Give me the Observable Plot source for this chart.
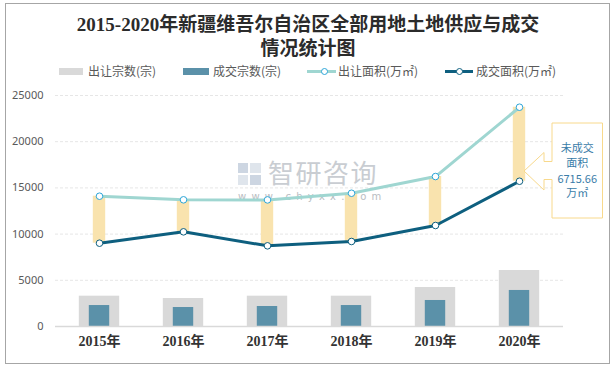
<!DOCTYPE html>
<html>
<head>
<meta charset="utf-8">
<script src="https://cdn.jsdelivr.net/npm/d3@7"></script>
<script src="https://cdn.jsdelivr.net/npm/@observablehq/plot@0.6"></script>
<style>
  html, body { margin: 0; padding: 0; background: #fff; }
  #wrap { position: relative; width: 615px; height: 367px; overflow: hidden; font-family: "Noto Sans CJK SC", "Noto Sans", sans-serif; }
  .abs { position: absolute; }
  #frame { left: 5px; top: 3px; width: 603px; height: 359px; border: 1px solid #a6a6a6; }
  #title { left: 0; top: 13px; width: 616px; text-align: center; font-family: "Liberation Serif", "Noto Sans CJK SC", serif; font-weight: bold; font-size: 19px; line-height: 24px; color: #2b2b2b; }
  .lg { font-size: 12px; line-height: 16px; top: 63px; color: #595959; white-space: nowrap; }
  .sw { top: 68px; height: 7px; }
  .ln { height: 3px; top: 69.5px; }
  .lc { width: 5px; height: 5px; border-radius: 50%; background: #fff; top: 67.5px; }
  #wm1 { left: 268px; top: 159px; font-size: 26px; line-height: 26px; color: #c9cdd2; letter-spacing: 1.5px; }
  #wm2 { left: 238px; top: 191px; font-size: 10px; line-height: 12px; color: #b9bdc2; letter-spacing: 5.2px; font-family: "DejaVu Sans", sans-serif; }
  #chart { left: 0; top: 0; }
</style>
</head>
<body>
<div id="wrap">
  <div class="abs" id="wm1">智研咨询</div>
  <div class="abs" id="wm2">www.chyxx.com</div>
  <div class="abs" style="left:238px;top:163px;width:10px;height:10px;background:#cdd6e2"></div>
  <div class="abs" style="left:250px;top:163px;width:11px;height:10px;background:#dfe5ec"></div>
  <div class="abs" style="left:238px;top:175px;width:10px;height:10px;background:#dfe5ec"></div>
  <div class="abs" style="left:250px;top:175px;width:11px;height:10px;background:#cdd6e2"></div>
  <div class="abs" id="chart"></div>
  <div class="abs" id="frame"></div>
  <div class="abs" id="title">2015-2020年新疆维吾尔自治区全部用地土地供应与成交<br>情况统计图</div>
  <div class="abs sw" style="left:59px;width:24px;background:#d9d9d9"></div>
  <div class="abs lg" style="left:88px">出让宗数(宗)</div>
  <div class="abs sw" style="left:183px;width:26px;background:#5b91a9"></div>
  <div class="abs lg" style="left:213px">成交宗数(宗)</div>
  <div class="abs ln" style="left:307px;width:29px;background:#9fd6d1"></div>
  <div class="abs lc" style="left:320.5px;border:1px solid #2ea6d8"></div>
  <div class="abs lg" style="left:338px">出让面积(万㎡)</div>
  <div class="abs ln" style="left:445px;width:28px;background:#0e5f7f"></div>
  <div class="abs lc" style="left:455.5px;border:1px solid #0e5f7f"></div>
  <div class="abs lg" style="left:476px">成交面积(万㎡)</div>
</div>
<script>
const years = ["2015年", "2016年", "2017年", "2018年", "2019年", "2020年"];
const supplyCount = [3280, 3030, 3280, 3280, 4220, 6060];
const dealCount = [2270, 2055, 2165, 2270, 2815, 3900];
const supplyArea = [14100, 13710, 13700, 14420, 16230, 23730];
const dealArea = [9015, 10245, 8730, 9200, 10930, 15720];
const yTicks = [0, 5000, 10000, 15000, 20000, 25000];
const calloutLines = ["未成交", "面积", "6715.66", "万㎡"];

const data = years.map((y, i) => ({
  year: y, sc: supplyCount[i], dc: dealCount[i], sa: supplyArea[i], da: dealArea[i]
}));

const chart = Plot.plot({
  width: 615,
  height: 367,
  marginTop: 95,
  marginBottom: 41,
  marginLeft: 55,
  marginRight: 52,
  style: { background: "transparent", fontFamily: "'Noto Sans', 'Noto Sans CJK SC', sans-serif", overflow: "visible" },
  x: { type: "band", domain: years, paddingInner: 0, paddingOuter: 0 },
  y: { domain: [0, 25000] },
  marks: [
    Plot.ruleY(yTicks.filter(d => d > 0), { stroke: "#e6e6e6", strokeDasharray: "3,2" }),
    Plot.barY(data, { x: "year", y: "sc", fill: "#d9d9d9", insetLeft: 21.8, insetRight: 21.8 }),
    Plot.barY(data, { x: "year", y: "dc", fill: "#5b91a9", insetLeft: 31.8, insetRight: 31.8 }),
    Plot.ruleY([0], { stroke: "#d9d9d9", strokeWidth: 1.5 }),
    Plot.barY(data, { x: "year", y1: "da", y2: "sa", fill: "#f9e3ae", insetLeft: 35.8, insetRight: 35.8 }),
    Plot.line(data, { x: "year", y: "sa", stroke: "#9fd6d1", strokeWidth: 3 }),
    Plot.line(data, { x: "year", y: "da", stroke: "#0e5f7f", strokeWidth: 3 }),
    Plot.dot(data, { x: "year", y: "sa", r: 3.3, fill: "white", stroke: "#2ea6d8", strokeWidth: 1 }),
    Plot.dot(data, { x: "year", y: "da", r: 3.3, fill: "white", stroke: "#0e5f7f", strokeWidth: 1 }),
    Plot.axisY({ ticks: yTicks, tickSize: 0, tickPadding: 12, fontSize: 11, fill: "#595959", label: null, tickFormat: d => String(d) }),
    Plot.axisX({ tickSize: 0, tickPadding: 10, fontSize: 14, fontWeight: "bold", fill: "#333", label: null, fontFamily: "'Liberation Serif', 'Noto Sans CJK SC', serif" })
  ]
});
document.getElementById("chart").appendChild(chart);

// callout annotation anchored to the 2020 gap bar
const xs = chart.scale("x");
const last = years[years.length - 1];
const cx = xs.apply(last) + xs.bandwidth / 2;
const tipX = cx + 5, tipY = 171;
const bl = tipX + 28, br = bl + 50.5, bt = 123, bb = 218;
const svg = d3.select(chart);
const g = svg.append("g");
g.append("path")
  .attr("d", `M${bl},${bt}H${br}V${bb}H${bl}V${tipY + 8.5}H${tipX + 20}V${tipY + 19}L${tipX},${tipY}L${tipX + 20},${tipY - 18.5}V${tipY - 9.5}H${bl}Z`)
  .attr("fill", "white").attr("stroke", "#f8d98c").attr("stroke-width", 1);
const lineYs = [148.5, 163.5, 179, 193.5];
calloutLines.forEach((t, i) => {
  g.append("text").attr("x", (bl + br) / 2).attr("y", lineYs[i]).attr("dy", "0.35em")
    .attr("text-anchor", "middle").attr("font-size", 11)
    .attr("font-family", "'Noto Sans CJK SC', 'Noto Sans', sans-serif")
    .attr("fill", "#3a7ca8").text(t);
});
</script>
</body>
</html>
